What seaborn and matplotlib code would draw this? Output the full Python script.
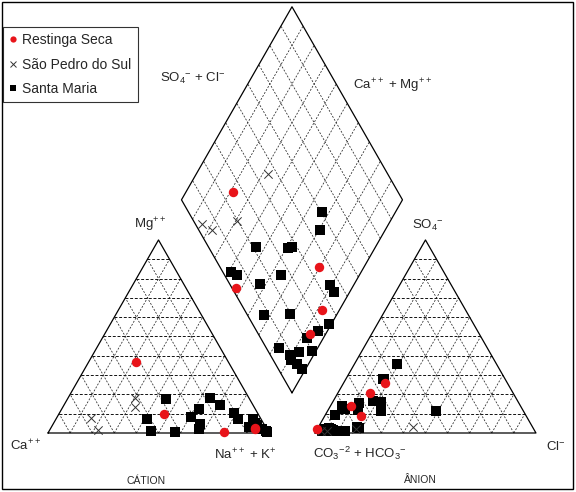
import numpy as np
import pandas as pd
import matplotlib
matplotlib.use("Agg")
import matplotlib.pyplot as plt
import seaborn as sns
from matplotlib.lines import Line2D
from matplotlib.patches import Rectangle

sns.set_style("white")
plt.rcParams["font.family"] = ["Liberation Sans", "DejaVu Sans"]
plt.rcParams["mathtext.fontset"] = "custom"
plt.rcParams["mathtext.rm"] = "Liberation Sans"
plt.rcParams["mathtext.default"] = "regular"

# Santa Maria samples (% meq): cations Mg, Na+K ; anions SO4, Cl
sm_mg = [4.7, 14.7, 1.2, 8.4, 12.3, 7.1, 17.5, 18.0, 0.3, 7.1, 3.0, 1.9,
         10.6, 0.7, 2.1, 3.0, 7.1, 4.0, 1.0, 3.3, 5.0, 2.0, 1.0]
sm_nak = [66.6, 70.5, 46.0, 60.6, 62.0, 41.2, 44.5, 64.4, 57.2, 89.2, 92.9, 67.2,
          78.7, 98.8, 95.9, 92.5, 82.5, 92.7, 98.3, 89.3, 91.0, 94.7, 98.1]
sm_so4 = [11.4, 35.8, 2.4, 11.4, 15.9, 1.0, 2.0, 11.9, 0.8, 27.8, 28.0, 2.4,
          14.2, 16.6, 15.7, 3.3, 1.0, 9.3, 12.3, 1.6, 2.0, 1.0, 1.0]
sm_cl = [48.9, 19.3, 18.9, 24.2, 21.9, 2.6, 3.5, 13.7, 13.0, 17.4, 16.9, 5.3,
         5.3, 17.8, 12.0, 17.5, 4.8, 4.6, 7.5, 7.3, 6.1, 8.6, 9.7]

# Restinga Seca samples
rs_mg = [36.8, 0.5, 9.8, 2.6, 2.0]
rs_nak = [21.4, 79.5, 47.6, 92.4, 92.6]
rs_so4 = [8.8, 25.9, 2.0, 20.7, 14.0]
rs_cl = [16.4, 18.7, 0.0, 14.5, 9.3]

# Sao Pedro do Sul samples
sp_mg = [13.5, 18.1, 7.8, 1.6]
sp_nak = [32.5, 30.3, 15.6, 21.8]
sp_so4 = [3.0, 2.0, 1.0, 1.0]
sp_cl = [43.0, 17.5, 2.1, 5.0]

groups = ["Restinga Seca", "São Pedro do Sul", "Santa Maria"]

h = np.sqrt(3) / 2
gap = 0.208


def cation_xy(mg, nak):
    mg, nak = np.asarray(mg) / 100, np.asarray(nak) / 100
    return nak + 0.5 * mg, h * mg


def anion_xy(so4, cl):
    so4, cl = np.asarray(so4) / 100, np.asarray(cl) / 100
    return 1 + gap + cl + 0.5 * so4, h * so4


def diamond_xy(nak, so4, cl):
    c = 1 - np.asarray(nak) / 100
    v = (np.asarray(so4) + np.asarray(cl)) / 100
    return 1 + gap / 2 + 0.5 * (v - c), gap * h + h * (c + v)


rows = []
for name, mg, nak, so4, cl in [("Restinga Seca", rs_mg, rs_nak, rs_so4, rs_cl),
                               ("São Pedro do Sul", sp_mg, sp_nak, sp_so4, sp_cl),
                               ("Santa Maria", sm_mg, sm_nak, sm_so4, sm_cl)]:
    for fx, fy in [cation_xy(mg, nak), anion_xy(so4, cl), diamond_xy(nak, so4, cl)]:
        for a, b in zip(fx, fy):
            rows.append({"x": a, "y": b, "grupo": name})
df = pd.DataFrame(rows)

fig = plt.figure(figsize=(5.76, 4.92), dpi=100)
ax = fig.add_axes([0, 0, 1, 1])

grid_kw = dict(color="#222222", lw=0.55, ls=(0, (2.5, 2)), zorder=1)
hgrid_kw = dict(color="#111111", lw=0.7, ls=(0, (3, 1.8)), zorder=1)
edge_kw = dict(color="black", lw=0.9, zorder=2)


def draw_triangle(x0):
    ax.plot([x0, x0 + 1, x0 + 0.5, x0], [0, 0, h, 0], **edge_kw)
    for i in range(1, 10):
        t = i / 10
        ax.plot([x0 + t / 2, x0 + 1 - t / 2], [t * h, t * h], **hgrid_kw)
        ax.plot([x0 + t, x0 + t + (1 - t) / 2], [0, (1 - t) * h], **grid_kw)
        ax.plot([x0 + 1 - t, x0 + (1 - t) / 2], [0, (1 - t) * h], **grid_kw)


draw_triangle(0)
draw_triangle(1 + gap)

bx, by = 1 + gap / 2, gap * h
ax.plot([bx, bx - 0.5, bx, bx + 0.5, bx], [by, by + h, by + 2 * h, by + h, by], **edge_kw)
for i in range(1, 10):
    t = i / 10
    sx, sy = bx - 0.5 * t, by + h * t
    ax.plot([sx, sx + 0.5], [sy, sy + h], **grid_kw)
    sx, sy = bx + 0.5 * t, by + h * t
    ax.plot([sx, sx - 0.5], [sy, sy + h], **grid_kw)

sns.scatterplot(data=df[df.grupo == "Santa Maria"], x="x", y="y", marker="s",
                color="black", edgecolor="black", s=46, linewidth=0, ax=ax, zorder=3)
sns.scatterplot(data=df[df.grupo == "São Pedro do Sul"], x="x", y="y", marker="x",
                color="#333333", s=36, linewidth=0.7, ax=ax, zorder=4)
sns.scatterplot(data=df[df.grupo == "Restinga Seca"], x="x", y="y", marker="o",
                color="#e8141a", edgecolor="#e8141a", s=46, linewidth=0, ax=ax, zorder=5)
ax.set_xlim(-48 / 221, 528 / 221)
ax.set_ylim(-59 / 222.9, 433 / 222.9)
ax.axis("off")


def ftext(px, py, s, size=9.5, **kw):
    fig.text(px / 576, 1 - py / 492, s, fontsize=size, ha="center", va="center", **kw)


ftext(150, 225, r"Mg$^{++}$")
ftext(26, 446, r"Ca$^{++}$")
ftext(245, 455, r"Na$^{++}$ + K$^{+}$")
ftext(146, 481, "CÁTION", size=7.5)
ftext(428, 225, r"SO$_4{}^{-}$")
ftext(360, 453, r"CO$_3{}^{-2}$ + HCO$_3{}^{-}$")
ftext(556, 447, r"Cl$^{-}$")
ftext(420, 480, "ÂNION", size=7.5)
ftext(193, 78, r"SO$_4{}^{-}$ + Cl$^{-}$")
ftext(393, 86, r"Ca$^{++}$ + Mg$^{++}$")

handles = [
    Line2D([], [], marker="o", ls="", color="#e8141a", markersize=4.5, markeredgewidth=0),
    Line2D([], [], marker="x", ls="", color="#333333", markersize=5, markeredgewidth=0.7),
    Line2D([], [], marker="s", ls="", color="black", markersize=5, markeredgewidth=0),
]
leg = ax.legend(handles, groups, loc="upper left", bbox_to_anchor=(3 / 576, 1 - 27 / 492),
                bbox_transform=fig.transFigure, fontsize=10, frameon=True, fancybox=False,
                handlelength=0.6, handletextpad=0.35, labelspacing=0.75, borderpad=0.45,
                borderaxespad=0)
leg.get_frame().set_edgecolor("black")
leg.get_frame().set_linewidth(0.8)

fig.patches.append(Rectangle((2 / 576, 3 / 492), 571 / 576, 487 / 492, transform=fig.transFigure,
                             fill=False, edgecolor="black", lw=1.0))

fig.savefig("out.png", dpi=100)
